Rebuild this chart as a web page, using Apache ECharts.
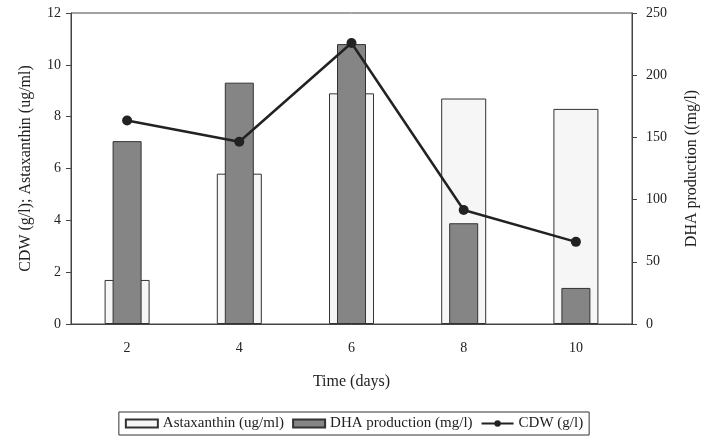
<!DOCTYPE html>
<html>
<head>
<meta charset="utf-8">
<script src="https://cdn.jsdelivr.net/npm/echarts@6/dist/echarts.min.js"></script>
<style>
  html, body { margin: 0; padding: 0; background: #fff; }
  #main { width: 708px; height: 436px; }
</style>
</head>
<body>
<div id="main"></div>
<script>
// 数据
const days = ['2', '4', '6', '8', '10']
const astaxanthin = [1.7, 5.8, 8.9, 8.7, 8.3]   // ug/ml, 左轴
const dha = [147, 194, 225, 81, 29]             // mg/l, 右轴
const cdw = [7.85, 7.03, 10.84, 4.4, 3.17]      // g/l, 左轴
const leftTicks = [0, 12, 2]
const rightTicks = [0, 250, 50]

const font = 'Liberation Serif'
const ink = '#222'

let myChart = echarts.init(document.getElementById('main'))
let option = {
    textStyle: { fontFamily: font, color: ink },
    animation: false,
    grid: {
        left: 71, right: 76, top: 13, bottom: 112,
        show: true, borderColor: '#444', borderWidth: 1
    },
    legend: {
        bottom: 1,
        left: 'center',
        itemGap: 8,
        itemWidth: 32,
        itemHeight: 8,
        padding: [4, 6],
        borderColor: '#333',
        borderWidth: 1,
        textStyle: { fontFamily: font, fontSize: 15, color: ink },
        data: [
            { name: 'Astaxanthin (ug/ml)', icon: 'rect' },
            { name: 'DHA production (mg/l)', icon: 'rect' },
            { name: 'CDW (g/l)' }
        ]
    },
    xAxis: [{
        type: 'category',
        data: days,
        name: 'Time (days)',
        nameLocation: 'middle',
        nameGap: 50,
        nameTextStyle: { fontFamily: font, fontSize: 16, color: ink },
        axisLine: { lineStyle: { color: '#444' } },
        axisTick: { length: 4, lineStyle: { color: '#444' } },
        axisLabel: { fontFamily: font, fontSize: 14, color: ink, margin: 17 }
    }, {
        type: 'category',
        data: days,
        show: false
    }],
    yAxis: [{
        type: 'value',
        min: leftTicks[0], max: leftTicks[1], interval: leftTicks[2],
        position: 'left',
        name: 'CDW (g/l); Astaxanthin (ug/ml)',
        nameLocation: 'middle',
        nameGap: 37,
        nameTextStyle: { fontFamily: font, fontSize: 16, color: ink },
        axisLine: { show: true, lineStyle: { color: '#444' } },
        axisTick: { show: true, length: 5, lineStyle: { color: '#444' } },
        axisLabel: { fontFamily: font, fontSize: 14, color: ink, margin: 10 },
        splitLine: { show: false }
    }, {
        type: 'value',
        min: rightTicks[0], max: rightTicks[1], interval: rightTicks[2],
        position: 'right',
        name: 'DHA production ((mg/l)',
        nameLocation: 'middle',
        nameGap: 52,
        nameTextStyle: { fontFamily: font, fontSize: 16, color: ink },
        axisLine: { show: true, lineStyle: { color: '#444' } },
        axisTick: { show: true, length: 5, lineStyle: { color: '#444' } },
        axisLabel: { fontFamily: font, fontSize: 14, color: ink, margin: 14 },
        splitLine: { show: false }
    }],
    series: [{
        name: 'Astaxanthin (ug/ml)',
        type: 'bar',
        xAxisIndex: 0,
        yAxisIndex: 0,
        barWidth: 45,
        itemStyle: { color: '#f6f6f6', borderColor: '#333', borderWidth: 1 },
        data: astaxanthin
    }, {
        name: 'DHA production (mg/l)',
        type: 'bar',
        xAxisIndex: 1,
        yAxisIndex: 1,
        barWidth: 29,
        itemStyle: { color: '#858585', borderColor: '#333', borderWidth: 1 },
        data: dha
    }, {
        name: 'CDW (g/l)',
        type: 'line',
        xAxisIndex: 0,
        yAxisIndex: 0,
        symbol: 'circle',
        symbolSize: 10,
        lineStyle: { color: ink, width: 2.5 },
        itemStyle: { color: ink },
        z: 5,
        data: cdw
    }]
}
myChart.setOption(option)
</script>
</body>
</html>
